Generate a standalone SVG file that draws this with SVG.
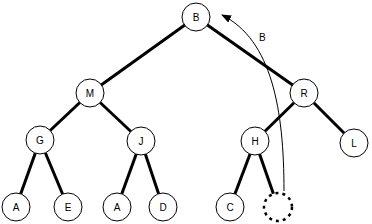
<svg xmlns="http://www.w3.org/2000/svg" width="372" height="224" viewBox="0 0 372 224">
<style>
.n circle{fill:#fff;stroke:#000;stroke-width:1}
.n circle.dash{stroke-width:2.5;stroke-dasharray:3,4}
.n text{font-family:"Liberation Sans",Arial,sans-serif;font-size:10px;text-anchor:middle;fill:#000}
.e line{stroke:#000;stroke-width:3}
.lbl{font-family:"Liberation Sans",Arial,sans-serif;font-size:10px;fill:#000}
</style>
<defs>
<marker id="ah" markerWidth="10" markerHeight="8" refX="9" refY="4" orient="auto" markerUnits="userSpaceOnUse">
<path d="M0,0 L10,4 L0,8 Z" fill="#000"/>
</marker>
</defs>
<rect width="372" height="224" fill="#fff"/>
<g id="connectors" class="e">
<line x1="196" y1="17" x2="90" y2="93"/>
<line x1="196" y1="17" x2="304" y2="93"/>
<line x1="90" y1="93" x2="40" y2="140"/>
<line x1="90" y1="93" x2="141" y2="141"/>
<line x1="304" y1="93" x2="255" y2="141"/>
<line x1="304" y1="93" x2="354" y2="143"/>
<line x1="40" y1="140" x2="16" y2="207"/>
<line x1="40" y1="140" x2="68" y2="207"/>
<line x1="141" y1="141" x2="117" y2="207"/>
<line x1="141" y1="141" x2="163" y2="207"/>
<line x1="255" y1="141" x2="230" y2="207"/>
<line x1="255" y1="141" x2="278" y2="207"/>
</g>
<g id="nB" class="n"><circle cx="196" cy="17" r="14"/><text x="196" y="21">B</text></g>
<g id="nM" class="n"><circle cx="90" cy="93" r="14"/><text x="90" y="97">M</text></g>
<g id="nR" class="n"><circle cx="304" cy="93" r="14"/><text x="304" y="97">R</text></g>
<g id="nG" class="n"><circle cx="40" cy="140" r="14"/><text x="40" y="144">G</text></g>
<g id="nJ" class="n"><circle cx="141" cy="141" r="14"/><text x="141" y="145">J</text></g>
<g id="nH" class="n"><circle cx="255" cy="141" r="14"/><text x="255" y="145">H</text></g>
<g id="nL" class="n"><circle cx="354" cy="143" r="14"/><text x="354" y="147">L</text></g>
<g id="nA1" class="n"><circle cx="16" cy="207" r="14"/><text x="16" y="211">A</text></g>
<g id="nE" class="n"><circle cx="68" cy="207" r="14"/><text x="68" y="211">E</text></g>
<g id="nA2" class="n"><circle cx="117" cy="207" r="14"/><text x="117" y="211">A</text></g>
<g id="nD" class="n"><circle cx="163" cy="207" r="14"/><text x="163" y="211">D</text></g>
<g id="nC" class="n"><circle cx="230" cy="207" r="14"/><text x="230" y="211">C</text></g>
<g id="nX" class="n"><circle class="dash" cx="278" cy="207" r="14"/></g>
<g id="move">
<path d="M284,191 C284,110 272,40 222,15" fill="none" stroke="#000" stroke-width="1" marker-end="url(#ah)"/>
<text class="lbl" x="259" y="41">B</text>
</g>
</svg>
